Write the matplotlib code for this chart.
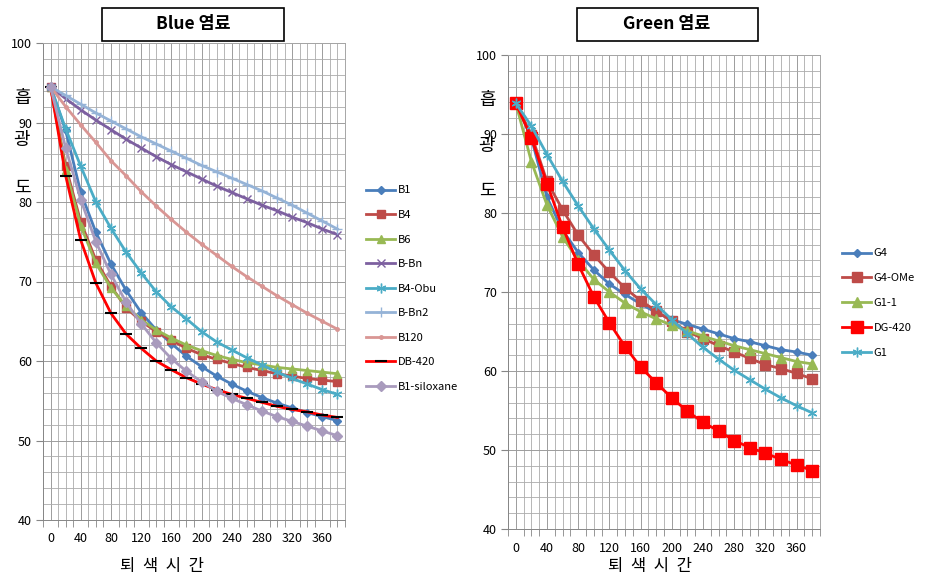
import matplotlib
matplotlib.use("Agg")
import matplotlib.pyplot as plt
import numpy as np

plt.rcParams['font.family'] = ['Noto Sans CJK KR', 'DejaVu Sans']

# ---------------- data ----------------
times = list(range(0, 400, 20))           # 0..380 (category axis)
tick_labels = [str(t) for t in range(0, 400, 40)]

blue_names = ["B1", "B4", "B6", "B-Bn", "B4-Obu", "B-Bn2", "B120", "DB-420", "B1-siloxane"]
B1 = [94.5, 89.0, 81.2, 76.2, 72.2, 68.9, 66.1, 63.9, 62.2, 60.6, 59.3, 58.1, 57.1, 56.2, 55.4, 54.7, 54.1, 53.5, 53.0, 52.5]
B4 = [94.5, 84.5, 77.5, 72.7, 69.4, 66.7, 65.0, 63.7, 62.6, 61.6, 60.8, 60.2, 59.7, 59.2, 58.8, 58.4, 58.1, 57.8, 57.6, 57.4]
B6 = [94.5, 84.0, 77.0, 72.3, 69.2, 66.9, 65.2, 63.9, 62.9, 62.0, 61.3, 60.7, 60.2, 59.8, 59.5, 59.2, 59.0, 58.8, 58.6, 58.4]
B_Bn = [94.5, 93.0, 91.6, 90.3, 89.1, 87.9, 86.8, 85.7, 84.7, 83.8, 82.9, 82.0, 81.2, 80.4, 79.6, 78.9, 78.1, 77.4, 76.6, 75.9]
B4_Obu = [94.5, 89.2, 84.5, 80.0, 76.7, 73.7, 71.1, 68.7, 66.8, 65.3, 63.7, 62.4, 61.4, 60.4, 59.5, 58.6, 57.8, 57.1, 56.4, 55.8]
B_Bn2 = [94.5, 93.4, 92.3, 91.2, 90.2, 89.2, 88.2, 87.3, 86.4, 85.5, 84.6, 83.8, 83.0, 82.2, 81.4, 80.5, 79.6, 78.6, 77.6, 76.6]
B120 = [94.5, 92.0, 89.7, 87.5, 85.2, 83.3, 81.3, 79.5, 77.8, 76.2, 74.7, 73.3, 71.9, 70.6, 69.4, 68.2, 67.1, 66.0, 65.0, 64.0]
DB_420 = [94.5, 83.3, 75.2, 69.8, 66.0, 63.4, 61.6, 60.0, 58.9, 57.9, 57.1, 56.4, 55.8, 55.3, 54.8, 54.3, 53.9, 53.6, 53.2, 52.9]
B1_siloxane = [94.5, 86.8, 80.3, 75.0, 70.9, 67.4, 64.7, 62.3, 60.3, 58.7, 57.4, 56.2, 55.3, 54.5, 53.7, 53.0, 52.4, 51.8, 51.2, 50.6]

green_names = ["G4", "G4-OMe", "G1-1", "DG-420", "G1"]
G4 = [93.9, 89.5, 82.0, 77.8, 75.0, 72.8, 71.0, 69.7, 68.5, 67.4, 66.5, 65.9, 65.3, 64.7, 64.1, 63.7, 63.2, 62.7, 62.4, 62.0]
G4_OMe = [93.9, 89.9, 84.0, 80.4, 77.2, 74.7, 72.5, 70.5, 68.9, 67.6, 66.3, 65.0, 64.1, 63.2, 62.4, 61.6, 60.8, 60.3, 59.7, 59.0]
G1_1 = [93.9, 86.5, 81.0, 77.0, 74.0, 71.6, 70.0, 68.6, 67.5, 66.6, 65.8, 65.1, 64.4, 63.8, 63.2, 62.7, 62.2, 61.7, 61.2, 60.9]
DG_420 = [93.9, 89.5, 83.7, 78.2, 73.5, 69.4, 66.1, 63.1, 60.5, 58.5, 56.6, 54.9, 53.5, 52.4, 51.2, 50.3, 49.6, 48.8, 48.1, 47.4]
G1 = [93.9, 91.0, 87.4, 84.0, 80.9, 78.0, 75.3, 72.7, 70.4, 68.4, 66.5, 64.7, 63.0, 61.5, 60.1, 58.9, 57.7, 56.6, 55.6, 54.7]

blue_series = [B1, B4, B6, B_Bn, B4_Obu, B_Bn2, B120, DB_420, B1_siloxane]
green_series = [G4, G4_OMe, G1_1, DG_420, G1]

# ---------------- styles ----------------
asterisk = (6, 2, 0)
blue_styles = [
    dict(color="#4A7EBB", marker="D", ms=4.5),
    dict(color="#BE4B48", marker="s", ms=5.5),
    dict(color="#98B954", marker="^", ms=6),
    dict(color="#7D60A0", marker="x", ms=6, mew=1.0),
    dict(color="#4BACC6", marker=asterisk, ms=7, mew=1.0),
    dict(color="#95B3D7", marker="+", ms=7, mew=1.0),
    dict(color="#D99694", marker="o", ms=2.5),
    dict(color="#FF0000", marker="_", ms=8, mew=1.5, mec="#000000"),
    dict(color="#A99BBD", marker="D", ms=5),
]
green_styles = [
    dict(color="#4A7EBB", marker="D", ms=4.5),
    dict(color="#BE4B48", marker="s", ms=7),
    dict(color="#98B954", marker="^", ms=7),
    dict(color="#FF0000", marker="s", ms=9),
    dict(color="#4BACC6", marker=asterisk, ms=7, mew=1.0),
]

W, H = 931, 587
fig = plt.figure(figsize=(W / 100, H / 100), dpi=100)
fig.patch.set_facecolor("white")


def make_axes(px_left, px_right, px_top, px_bottom):
    return fig.add_axes([px_left / W, (H - px_bottom) / H,
                         (px_right - px_left) / W, (px_bottom - px_top) / H])


def style_axes(ax):
    n = len(times)
    ax.set_xlim(-0.5, n - 0.5)
    ax.set_ylim(40, 100)
    ax.set_xticks(np.arange(0, n, 2))
    ax.set_xticklabels(tick_labels)
    ax.set_xticks(np.arange(-0.5, n, 0.5), minor=True)
    ax.set_yticks(np.arange(40, 101, 10))
    ax.set_yticks(np.arange(40, 101, 2), minor=True)
    ax.grid(True, which="major", color="#9C9C9C", lw=0.7)
    ax.grid(True, which="minor", color="#ABABAB", lw=0.6)
    ax.set_axisbelow(True)
    ax.tick_params(axis="x", which="major", length=0, pad=9, labelsize=9)
    ax.tick_params(axis="x", which="minor", length=5, color="#868686", direction="out")
    ax.tick_params(axis="y", which="major", length=5, color="#868686", pad=3, labelsize=9)
    ax.tick_params(axis="y", which="minor", length=0)
    for s in ax.spines.values():
        s.set_color("#A6A6A6")
        s.set_linewidth(0.7)
    ax.spines["left"].set_color("#868686")
    ax.spines["bottom"].set_color("#868686")


x = np.arange(len(times))

# ---------------- left chart ----------------
axL = make_axes(43, 345, 43, 520)
style_axes(axL)
for name, ys, st in zip(blue_names, blue_series, blue_styles):
    st = dict(st)
    color = st.pop("color")
    mec = st.pop("mec", color)
    axL.plot(x, ys, color=color, lw=2.0, mfc=color, mec=mec, label=name, **st)

axL.legend(loc="upper left", bbox_to_anchor=(362 / W, (H - 181) / H),
           bbox_transform=fig.transFigure, frameon=False, fontsize=8,
           handlelength=2.6, handletextpad=0.2, labelspacing=1.31,
           borderaxespad=0)

# ---------------- right chart ----------------
axR = make_axes(508, 820, 55, 529)
style_axes(axR)
for name, ys, st in zip(green_names, green_series, green_styles):
    st = dict(st)
    color = st.pop("color")
    axR.plot(x, ys, color=color, lw=2.0, mfc=color, mec=color, label=name, **st)

axR.legend(loc="upper left", bbox_to_anchor=(838 / W, (H - 244) / H),
           bbox_transform=fig.transFigure, frameon=False, fontsize=8,
           handlelength=2.6, handletextpad=0.2, labelspacing=1.33,
           borderaxespad=0)

# ---------------- titles ----------------
for cx, txt, l, r in [(193, "Blue 염료", 102, 284), (667, "Green 염료", 577, 758)]:
    fig.patches.append(plt.Rectangle((l / W, (H - 41) / H), (r - l) / W, 33 / H,
                                     transform=fig.transFigure, facecolor="white",
                                     edgecolor="black", lw=1.2))
    fig.text(cx / W, (H - 24) / H, txt, ha="center", va="center",
             fontsize=12.5, fontweight="bold")

# ---------------- axis labels ----------------
for px, ys_ in [(22, (98, 140, 188)), (487, (100, 146, 191))]:
    for ch, py in zip("흡광도", ys_):
        fig.text(px / W, (H - py) / H, ch, ha="center", va="center", fontsize=13)

for cx in (162, 650):
    fig.text(cx / W, (H - 567) / H, "퇴  색  시  간", ha="center", va="center",
             fontsize=12)

fig.savefig("out.png", dpi=100, facecolor="white")
